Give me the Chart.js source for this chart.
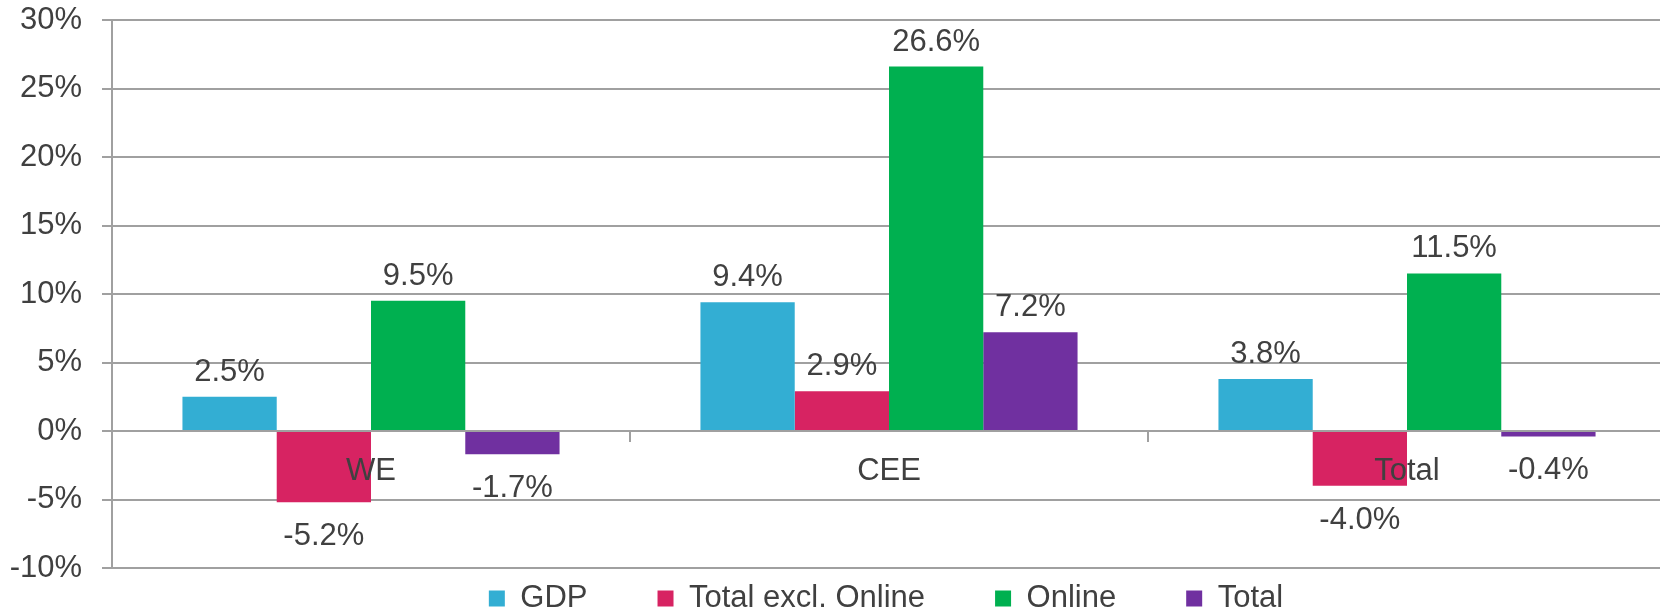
<!DOCTYPE html>
<html>
<head>
<meta charset="utf-8">
<style>
  html, body { margin: 0; padding: 0; background: #fff; overflow: hidden; }
  .wrap { width: 1660px; height: 610px; overflow: hidden; }
</style>
</head>
<body>
<div class="wrap">
  <canvas id="chart" width="1666" height="610"></canvas>
</div>
<script src="https://cdn.jsdelivr.net/npm/chart.js"></script>
<script>
  const regions = ['WE', 'CEE', 'Total'];
  const gdp = [2.5, 9.4, 3.8];
  const totalExclOnline = [-5.2, 2.9, -4.0];
  const online = [9.5, 26.6, 11.5];
  const total = [-1.7, 7.2, -0.4];
  const yTicks = [-10, -5, 0, 5, 10, 15, 20, 25, 30];

  const textColor = '#404040';
  const gridColor = '#a0a0a0';
  const fontFamily = '"Liberation Sans", Arial, sans-serif';

  // value labels above positive bars, below negative ones
  const barLabels = {
    id: 'barLabels',
    afterDatasetsDraw(chart) {
      const ctx = chart.ctx;
      ctx.save();
      ctx.font = '31px ' + fontFamily;
      ctx.fillStyle = textColor;
      ctx.textAlign = 'center';
      ctx.textBaseline = 'alphabetic';
      chart.data.datasets.forEach((ds, i) => {
        chart.getDatasetMeta(i).data.forEach((bar, j) => {
          const v = ds.data[j];
          const y = v >= 0 ? bar.y - 16 : bar.y + 43;
          ctx.fillText(v.toFixed(1) + '%', bar.x, y);
        });
      });
      ctx.restore();
    }
  };

  // wide legend spacing but keep the legend row short
  const legendGap = {
    id: 'legendGap',
    beforeInit(chart) {
      const fit = chart.legend.fit;
      chart.legend.fit = function () { fit.call(this); this.height = 42; };
    },
    afterLayout(chart) {
      chart.legend.top = chart.chartArea.bottom + 15 - 70;
      chart.legend.left -= 6;
    }
  };

  const data = {
    labels: regions,
    datasets: [
      { label: 'GDP', data: gdp, backgroundColor: '#33aed3' },
      { label: 'Total excl. Online', data: totalExclOnline, backgroundColor: '#d72362' },
      { label: 'Online', data: online, backgroundColor: '#00b050' },
      { label: 'Total', data: total, backgroundColor: '#7030a0' }
    ]
  };

  const config = {
    type: 'bar',
    data,
    options: {
      responsive: false,
      animation: false,
      layout: { padding: { top: 0, left: 10, right: 0, bottom: 0 } },
      datasets: {
        bar: { categoryPercentage: 0.728, barPercentage: 1.0, borderWidth: 0 }
      },
      scales: {
        x: {
          position: { y: 0 },
          grid: { drawOnChartArea: false, drawTicks: true, tickLength: 10, color: gridColor, lineWidth: 2, z: 1 },
          border: { display: true, color: gridColor, width: 2, z: 1 },
          ticks: { color: textColor, font: { size: 31, family: fontFamily }, padding: 12, z: 1 },
          afterFit(scale) { scale.paddingTop = 0; scale.paddingBottom = 0; scale.height = 0; }
        },
        y: {
          min: -10,
          max: 30,
          afterBuildTicks(scale) { scale.ticks = yTicks.map(v => ({ value: v })); },
          afterFit(scale) { scale.width = 102; scale.paddingTop = 20; scale.paddingBottom = 0; },
          grid: { color: gridColor, lineWidth: 2, tickLength: 10 },
          border: { display: true, color: gridColor, width: 2 },
          ticks: {
            color: textColor,
            font: { size: 31, family: fontFamily },
            padding: 20,
            callback: v => v + '%'
          }
        }
      },
      plugins: {
        legend: {
          position: 'bottom',
          fullSize: false,
          labels: {
            color: textColor,
            font: { size: 31, family: fontFamily },
            boxWidth: 16,
            boxHeight: 16,
            padding: 70
          }
        },
        tooltip: { enabled: false }
      }
    },
    plugins: [barLabels, legendGap]
  };

  new Chart(document.getElementById('chart'), config);
</script>
</body>
</html>
